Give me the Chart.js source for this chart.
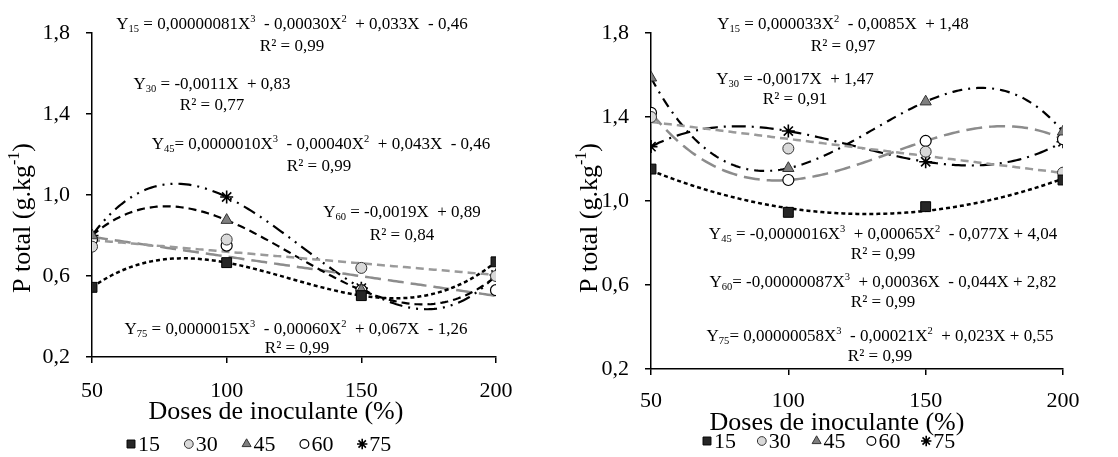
<!DOCTYPE html>
<html>
<head>
<meta charset="utf-8">
<script src="https://cdn.jsdelivr.net/npm/chart.js@4.4.1/dist/chart.umd.min.js"></script>
<style>
  html,body{margin:0;padding:0;background:#fff;}
  #wrap{position:relative;width:1118px;height:457px;background:#fff;overflow:hidden;}
  .pane{position:absolute;top:0;width:559px;height:457px;}
</style>
</head>
<body>
<div id="wrap">
  <div class="pane" style="left:0"><canvas id="c1" width="559" height="457"></canvas></div>
  <div class="pane" style="left:559px"><canvas id="c2" width="559" height="457"></canvas></div>
</div>
<script>
// ---------------- DATA ----------------
const doses = [50, 100, 150, 200];
const seriesNames = ['15', '30', '45', '60', '75'];
const xTicks = [50, 100, 150, 200];
const yTicks = [0.2, 0.6, 1.0, 1.4, 1.8];

// left panel
const leftP15 = [0.544, 0.666, 0.503, 0.670];
const leftP30 = [0.745, 0.780, 0.640, 0.600];
const leftP45 = [0.800, 0.876, 0.530, 0.600];
const leftP60 = [0.780, 0.750, 0.530, 0.530];
const leftP75 = [0.800, 0.990, 0.540, 0.605];
const leftFitDegree = [3, 1, 3, 1, 3];
const leftEquations = [
  'Y_{15} = 0,00000081X^{3}  - 0,00030X^{2}  + 0,033X  - 0,46',
  'Y_{30} = -0,0011X  + 0,83',
  'Y_{45}= 0,0000010X^{3}  - 0,00040X^{2}  + 0,043X  - 0,46',
  'Y_{60} = -0,0019X  + 0,89',
  'Y_{75} = 0,0000015X^{3}  - 0,00060X^{2}  + 0,067X  - 1,26'
];
const leftR2 = ['R² = 0,99', 'R² = 0,77', 'R² = 0,99', 'R² = 0,84', 'R² = 0,99'];

// right panel
const rightP15 = [1.152, 0.946, 0.973, 1.100];
const rightP30 = [1.400, 1.250, 1.235, 1.135];
const rightP45 = [1.587, 1.156, 1.473, 1.330];
const rightP60 = [1.420, 1.100, 1.286, 1.294];
const rightP75 = [1.259, 1.333, 1.187, 1.282];
const rightFitDegree = [2, 1, 3, 3, 3];
const rightEquations = [
  'Y_{15} = 0,000033X^{2}  - 0,0085X  + 1,48',
  'Y_{30} = -0,0017X  + 1,47',
  'Y_{45} = -0,0000016X^{3}  + 0,00065X^{2}  - 0,077X + 4,04',
  'Y_{60}= -0,00000087X^{3}  + 0,00036X  - 0,044X + 2,82',
  'Y_{75}= 0,00000058X^{3}  - 0,00021X^{2}  + 0,023X + 0,55'
];
const rightR2 = ['R² = 0,97', 'R² = 0,91', 'R² = 0,99', 'R² = 0,99', 'R² = 0,99'];

const yTitle = 'P total (g.kg^{-1})';
const xTitle = 'Doses de inoculante (%)';

// ---------------- STYLES ----------------
const FONT = '"Liberation Serif", "Times New Roman", serif';
const markerStyles = [
  {pointStyle: 'rect', radius: 7, bg: '#262626', border: '#000', bw: 1},
  {pointStyle: 'circle', radius: 5.5, bg: '#d9d9d9', border: '#333', bw: 1},
  {pointStyle: 'triangle', radius: 6.5, bg: '#7f7f7f', border: '#333', bw: 1},
  {pointStyle: 'circle', radius: 5.5, bg: '#ffffff', border: '#000', bw: 1.2},
  {pointStyle: 'star', radius: 6.5, bg: '#000', border: '#000', bw: 1.6}
];
const leftLineStyles = [
  {color: '#000', width: 2.5, dash: [4, 3]},
  {color: '#9a9a9a', width: 2.5, dash: [8, 5]},
  {color: '#000', width: 2.2, dash: [8, 5]},
  {color: '#8c8c8c', width: 2.5, dash: [16, 7]},
  {color: '#000', width: 2.2, dash: [13, 6, 2, 6, 2, 6]}
];
const rightLineStyles = [
  {color: '#000', width: 2.5, dash: [4, 3]},
  {color: '#9a9a9a', width: 2.5, dash: [8, 5]},
  {color: '#000', width: 2.2, dash: [10, 6, 2, 6]},
  {color: '#8c8c8c', width: 2.5, dash: [16, 7]},
  {color: '#000', width: 2.2, dash: [14, 6, 2, 6]}
];

// ---------------- HELPERS ----------------
function polyfit(xs, ys, deg) {
  const n = deg + 1;
  const A = Array.from({length: n}, () => new Array(n).fill(0));
  const b = new Array(n).fill(0);
  xs.forEach((x, k) => {
    const t = (x - 125) / 75;
    for (let i = 0; i < n; i++) {
      b[i] += ys[k] * Math.pow(t, i);
      for (let j = 0; j < n; j++) A[i][j] += Math.pow(t, i + j);
    }
  });
  for (let c = 0; c < n; c++) {
    let p = c;
    for (let r = c + 1; r < n; r++) if (Math.abs(A[r][c]) > Math.abs(A[p][c])) p = r;
    [A[c], A[p]] = [A[p], A[c]]; [b[c], b[p]] = [b[p], b[c]];
    for (let r = 0; r < n; r++) {
      if (r === c) continue;
      const f = A[r][c] / A[c][c];
      for (let j = c; j < n; j++) A[r][j] -= f * A[c][j];
      b[r] -= f * b[c];
    }
  }
  const coef = b.map((v, i) => v / A[i][i]);
  return x => { const t = (x - 125) / 75; return coef.reduce((s, c, i) => s + c * Math.pow(t, i), 0); };
}

function drawRich(ctx, str, cx, cy, size) {
  const parts = str.split(/(_\{[^}]*\}|\^\{[^}]*\})/).filter(s => s.length);
  const segs = parts.map(p => {
    if (p.startsWith('_{')) return {t: p.slice(2, -1), s: size * 0.62, dy: size * 0.25};
    if (p.startsWith('^{')) return {t: p.slice(2, -1), s: size * 0.62, dy: -size * 0.33};
    return {t: p, s: size, dy: 0};
  });
  let total = 0;
  segs.forEach(g => { ctx.font = g.s + 'px ' + FONT; g.w = ctx.measureText(g.t).width; total += g.w; });
  let x = cx - total / 2;
  ctx.textBaseline = 'middle';
  ctx.textAlign = 'left';
  ctx.fillStyle = '#000';
  segs.forEach(g => { ctx.font = g.s + 'px ' + FONT; ctx.fillText(g.t, x, cy + g.dy); x += g.w; });
}

function makeChart(canvasId, values, degrees, lineStyles, cfg) {
  const datasets = [];
  values.forEach((vals, i) => {
    const m = markerStyles[i];
    datasets.push({
      label: seriesNames[i],
      data: doses.map((x, k) => ({x: x, y: vals[k]})),
      showLine: false,
      pointStyle: m.pointStyle,
      pointRadius: m.radius,
      pointHoverRadius: m.radius,
      backgroundColor: m.bg,
      borderColor: m.border,
      pointBorderWidth: m.bw,
      order: 0
    });
  });
  values.forEach((vals, i) => {
    const f = polyfit(doses, vals, degrees[i]);
    const pts = [];
    for (let x = doses[0]; x <= doses[doses.length - 1]; x += 1) pts.push({x: x, y: f(x)});
    const st = lineStyles[i];
    datasets.push({
      label: 'fit ' + seriesNames[i],
      data: pts,
      showLine: true,
      pointRadius: 0,
      borderColor: st.color,
      borderWidth: st.width,
      borderDash: st.dash,
      fill: false,
      tension: 0,
      order: 1
    });
  });

  const textPlugin = {
    id: 'texts',
    afterDraw(chart) {
      const ctx = chart.ctx;
      ctx.save();
      cfg.eqs.forEach((e, i) => {
        drawRich(ctx, e, cfg.eqPos[i][0], cfg.eqPos[i][1], cfg.eqSize);
        drawRich(ctx, cfg.r2[i], cfg.r2Pos[i][0], cfg.r2Pos[i][1], cfg.eqSize);
      });
      drawRich(ctx, xTitle, cfg.xTitlePos[0], cfg.xTitlePos[1], cfg.titleSize);
      ctx.save();
      ctx.translate(cfg.yTitlePos[0], cfg.yTitlePos[1]);
      ctx.rotate(-Math.PI / 2);
      drawRich(ctx, yTitle, 0, 0, cfg.titleSize);
      ctx.restore();
      seriesNames.forEach((name, i) => {
        const m = markerStyles[i];
        const x = cfg.legX + i * cfg.legStep;
        const y = cfg.legY;
        ctx.fillStyle = m.bg;
        ctx.strokeStyle = m.border;
        ctx.lineWidth = m.bw;
        ctx.setLineDash([]);
        Chart.helpers.drawPoint(ctx, {pointStyle: m.pointStyle, radius: m.radius * 0.8, rotation: 0, borderWidth: m.bw}, x, y);
        ctx.font = cfg.legSize + 'px ' + FONT;
        ctx.fillStyle = '#000';
        ctx.textAlign = 'left';
        ctx.textBaseline = 'middle';
        ctx.fillText(name, x + 7, y + 1);
      });
      ctx.restore();
    }
  };

  return new Chart(document.getElementById(canvasId), {
    type: 'scatter',
    data: {datasets: datasets},
    options: {
      responsive: false,
      animation: false,
      events: [],
      layout: {padding: {left: 0, top: cfg.padTop, right: cfg.padRight, bottom: cfg.padBottom}},
      plugins: {legend: {display: false}, tooltip: {enabled: false}},
      scales: {
        x: {
          type: 'linear', min: 50, max: 200,
          afterBuildTicks: s => { s.ticks = xTicks.map(v => ({value: v})); },
          afterFit: s => { s.height = cfg.xHeight; },
          grid: {display: true, drawOnChartArea: false, drawTicks: true, tickLength: 6, color: '#000', lineWidth: 1.5},
          border: {display: true, color: '#000', width: 1.5},
          ticks: {color: '#000', font: {family: FONT, size: cfg.tickSize}, padding: cfg.xTickPad, maxRotation: 0, autoSkip: false,
                  callback: v => String(v)}
        },
        y: {
          type: 'linear', min: 0.2, max: 1.8,
          afterBuildTicks: s => { s.ticks = yTicks.map(v => ({value: v})); },
          afterFit: s => { s.width = cfg.yWidth; },
          grid: {display: true, drawOnChartArea: false, drawTicks: true, tickLength: 6, color: '#000', lineWidth: 1.5},
          border: {display: true, color: '#000', width: 1.5},
          ticks: {color: '#000', font: {family: FONT, size: cfg.tickSize}, padding: cfg.yTickPad, autoSkip: false,
                  callback: v => v.toFixed(1).replace('.', ',')}
        }
      }
    },
    plugins: [textPlugin]
  });
}

makeChart('c1', [leftP15, leftP30, leftP45, leftP60, leftP75], leftFitDegree, leftLineStyles, {
  padTop: 33, padRight: 63, padBottom: 40, xHeight: 60, yWidth: 92,
  tickSize: 22, xTickPad: 15, yTickPad: 16, titleSize: 26, eqSize: 17, legSize: 22,
  eqs: leftEquations, r2: leftR2,
  eqPos: [[292, 25], [212, 85], [321, 145], [402, 213], [296, 330]],
  r2Pos: [[292, 47], [212, 106], [319, 167], [402, 236], [297, 349]],
  xTitlePos: [276, 412], yTitlePos: [23, 218],
  legX: 131, legStep: 57.8, legY: 444
});

makeChart('c2', [rightP15, rightP30, rightP45, rightP60, rightP75], rightFitDegree, rightLineStyles, {
  padTop: 33, padRight: 55, padBottom: 38, xHeight: 50, yWidth: 92,
  tickSize: 22, xTickPad: 13, yTickPad: 16, titleSize: 26, eqSize: 17, legSize: 22,
  eqs: rightEquations, r2: rightR2,
  eqPos: [[284, 25], [236, 80], [324, 235], [324, 283], [321, 337]],
  r2Pos: [[284, 47], [236, 100], [324, 255], [324, 303], [321, 357]],
  xTitlePos: [278, 423], yTitlePos: [31, 218],
  legX: 148, legStep: 54.8, legY: 441
});
</script>
</body>
</html>
